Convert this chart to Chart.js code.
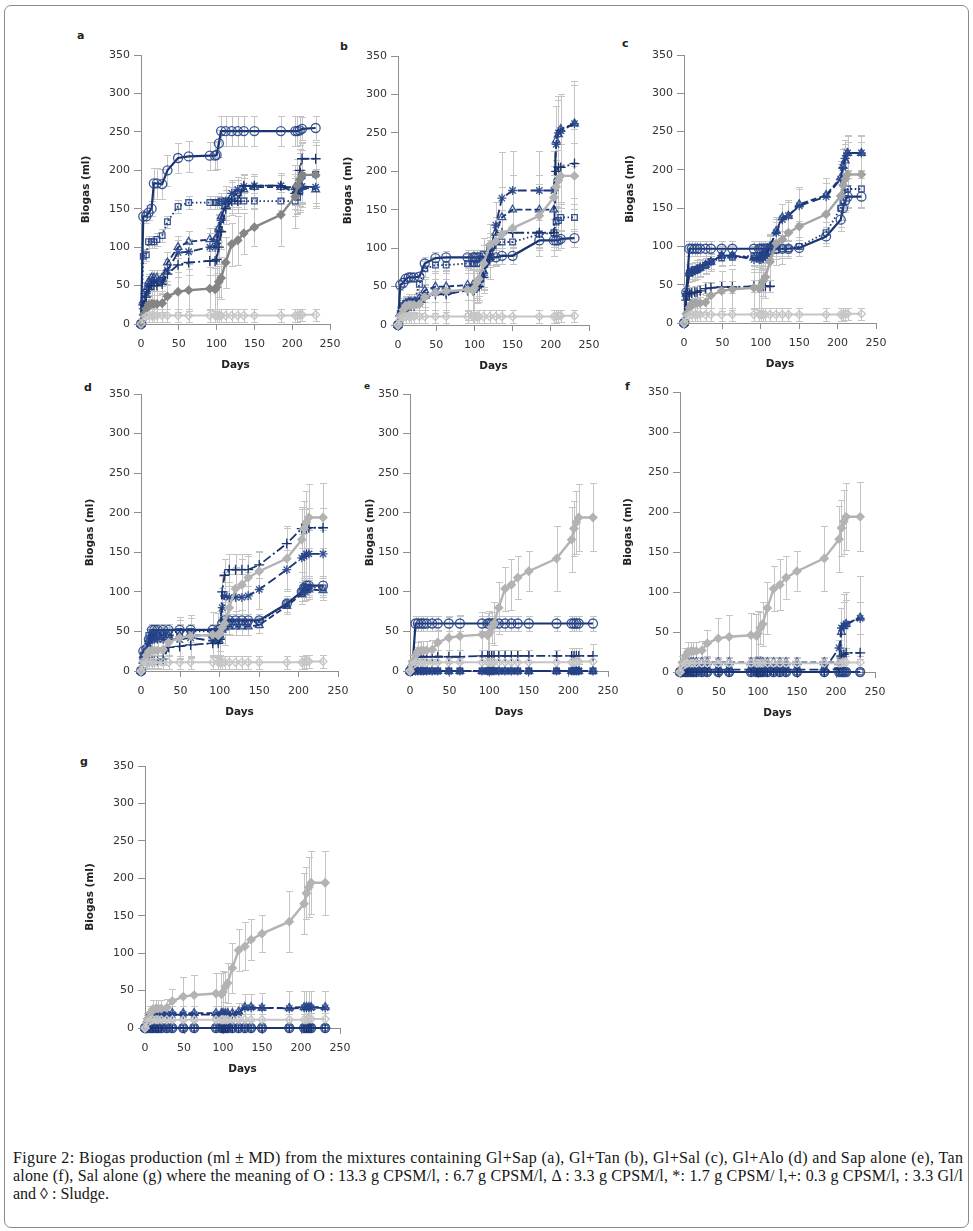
<!DOCTYPE html>
<html>
<head>
<meta charset="utf-8">
<script src="https://cdn.jsdelivr.net/npm/chart.js@4.4.1/dist/chart.umd.min.js"></script>
<style>
  html, body { margin: 0; padding: 0; background: #fff; }
  body { width: 973px; height: 1231px; position: relative; overflow: hidden; }
  .frame { position: absolute; left: 4px; top: 5px; width: 965px; height: 1223px;
           border: 1.5px solid #8a8a8a; border-radius: 7px; box-sizing: border-box; }
  canvas.panel { position: absolute; left: 0; top: 0; }
  .letter { position: absolute; font: bold 11px "DejaVu Sans", sans-serif; color: #222; }
  .cap { position: absolute; left: 13px; font-family: "Liberation Serif", serif; font-size: 16px;
         color: #151515; white-space: nowrap; line-height: 18px; }
</style>
</head>
<body>
<div class="frame"></div>
<div class="letter" style="left:77px;top:29px">a</div>
<div class="letter" style="left:340px;top:40px">b</div>
<div class="letter" style="left:622px;top:37px">c</div>
<div class="letter" style="left:84px;top:381px">d</div>
<div class="letter" style="left:364px;top:381px;font-size:9px">e</div>
<div class="letter" style="left:625px;top:380px">f</div>
<div class="letter" style="left:80px;top:755px">g</div>

<div class="cap fit" style="top:1149px">Figure 2: Biogas production (ml ± MD) from the mixtures containing Gl+Sap (a), Gl+Tan (b), Gl+Sal (c), Gl+Alo (d) and Sap alone (e), Tan</div>
<div class="cap fit" style="top:1167px">alone (f), Sal alone (g) where the meaning of O : 13.3 g CPSM/l, : 6.7 g CPSM/l, Δ : 3.3 g CPSM/l, *: 1.7 g CPSM/ l,+: 0.3 g CPSM/l, : 3.3 Gl/l</div>
<div class="cap" style="top:1185px">and ◊ : Sludge.</div>

<script>
// sampling days shared by all series
const days = [0, 3, 7, 10, 14, 17, 21, 28, 35, 49, 63, 91, 98, 100, 103, 106, 112, 120, 128, 136, 150, 185, 204, 207, 210, 213, 231];

// controls, identical in every panel
const glycerol    = [0, 12, 20, 25, 26, 26, 26, 27, 36, 42, 44, 46, 45, 48, 55, 60, 80, 104, 109, 118, 126, 142, 166, 180, 188, 194, 194];
const glycerolErr = [0, 8, 10, 12, 12, 12, 12, 12, 16, 26, 27, 28, 28, 28, 20, 27, 33, 28, 32, 27, 25, 41, 41, 35, 40, 42, 43];
const sludge      = [0, 7, 10, 11, 11, 11, 11, 11, 11, 11, 11, 11, 11, 11, 11, 11, 11, 11, 11, 11, 11, 11, 11, 11, 12, 12, 12];
const sludgeErr   = [0, 6, 8, 8, 8, 8, 8, 8, 8, 8, 8, 8, 8, 8, 8, 8, 8, 8, 8, 8, 8, 8, 8, 8, 8, 8, 8];

// a : Gl+Sap
const aCircle      = [0, 140, 140, 145, 150, 183, 183, 182, 200, 216, 218, 219, 219, 220, 235, 251, 251, 251, 251, 251, 251, 251, 251, 251, 252, 254, 255];
const aCircleErr   = [0, 8, 8, 10, 10, 20, 20, 20, 20, 20, 20, 18, 18, 18, 18, 19, 19, 19, 19, 19, 19, 19, 19, 19, 19, 15, 15];
const aSquare      = [0, 88, 90, 107, 107, 107, 110, 115, 133, 153, 158, 158, 158, 158, 158, 160, 160, 160, 160, 160, 160, 160, 160, 165, 172, 193, 195];
const aSquareErr   = [0, 8, 8, 8, 8, 8, 8, 8, 8, 8, 8, 8, 8, 8, 8, 10, 10, 10, 10, 10, 10, 12, 20, 22, 26, 34, 38];
const aTriangle    = [0, 30, 45, 55, 60, 60, 60, 60, 80, 100, 107, 110, 110, 112, 125, 140, 155, 165, 170, 175, 178, 178, 178, 178, 178, 178, 175];
const aTriangleErr = [0, 10, 10, 10, 10, 10, 10, 10, 14, 14, 14, 15, 15, 15, 18, 18, 20, 20, 18, 15, 15, 16, 22, 22, 22, 22, 24];
const aStar        = [0, 20, 40, 50, 55, 55, 55, 55, 70, 93, 94, 100, 100, 105, 120, 135, 160, 170, 175, 179, 180, 180, 175, 175, 175, 179, 178];
const aStarErr     = [0, 10, 10, 12, 12, 12, 12, 12, 14, 16, 16, 18, 18, 18, 22, 22, 20, 18, 16, 15, 15, 16, 20, 20, 22, 22, 24];
const aPlus        = [0, 25, 35, 45, 50, 50, 50, 52, 65, 77, 80, 82, 82, 84, 100, 120, 150, 160, 160, 180, 180, 180, 170, 170, 200, 215, 215];
const aPlusErr     = [0, 10, 10, 12, 12, 12, 12, 12, 14, 16, 16, 18, 18, 18, 22, 22, 20, 18, 16, 15, 15, 16, 20, 22, 22, 22, 22];

// b : Gl+Tan
const bCircle      = [0, 52, 55, 60, 62, 62, 62, 63, 80, 87, 88, 88, 88, 88, 88, 88, 88, 88, 88, 90, 90, 110, 110, 110, 110, 112, 113];
const bCircleErr   = [0, 6, 6, 6, 6, 6, 6, 6, 8, 8, 8, 10, 10, 10, 10, 10, 10, 10, 10, 10, 10, 12, 12, 12, 12, 12, 12];
const bSquare      = [0, 15, 25, 28, 30, 30, 30, 53, 73, 78, 78, 80, 80, 80, 80, 85, 92, 100, 108, 108, 108, 118, 120, 134, 136, 140, 140];
const bSquareErr   = [0, 8, 8, 8, 8, 8, 8, 10, 10, 10, 10, 12, 12, 12, 12, 12, 12, 15, 15, 15, 15, 18, 18, 18, 18, 18, 18];
const bTriangle    = [0, 15, 25, 28, 30, 30, 30, 35, 45, 50, 50, 52, 52, 52, 55, 58, 70, 95, 120, 140, 150, 150, 150, 240, 248, 255, 262];
const bTriangleErr = [0, 10, 10, 10, 10, 10, 10, 10, 15, 20, 20, 20, 20, 20, 20, 20, 20, 20, 20, 40, 45, 45, 45, 45, 45, 45, 50];
const bStar        = [0, 12, 20, 25, 27, 27, 27, 30, 38, 42, 42, 47, 47, 48, 50, 52, 65, 90, 130, 165, 175, 175, 175, 235, 250, 253, 262];
const bStarErr     = [0, 10, 10, 10, 10, 10, 10, 10, 15, 40, 45, 40, 40, 40, 20, 20, 20, 30, 30, 60, 52, 52, 52, 50, 48, 45, 55];
const bPlus        = [0, 12, 18, 24, 25, 25, 25, 30, 35, 40, 40, 45, 45, 46, 48, 50, 62, 85, 105, 120, 120, 120, 120, 200, 205, 205, 210];
const bPlusErr     = [0, 10, 10, 10, 10, 10, 10, 10, 15, 20, 20, 30, 30, 30, 20, 20, 20, 25, 25, 30, 30, 30, 30, 45, 45, 45, 45];

// c : Gl+Sal
const cCircle      = [0, 40, 97, 97, 97, 97, 97, 97, 97, 97, 97, 97, 97, 97, 97, 97, 97, 97, 97, 97, 98, 113, 135, 150, 160, 165, 165];
const cCircleErr   = [0, 10, 10, 10, 10, 10, 10, 10, 10, 10, 10, 10, 10, 10, 10, 10, 10, 10, 10, 10, 10, 12, 15, 15, 15, 15, 15];
const cSquare      = [0, 35, 65, 68, 70, 70, 72, 75, 80, 85, 86, 88, 88, 88, 90, 92, 93, 95, 97, 97, 100, 118, 150, 160, 170, 175, 175];
const cSquareErr   = [0, 10, 10, 10, 10, 10, 10, 10, 10, 10, 10, 12, 12, 12, 12, 12, 12, 12, 12, 12, 12, 14, 15, 15, 15, 15, 15];
const cTriangle    = [0, 38, 65, 67, 68, 70, 72, 76, 80, 88, 88, 85, 85, 85, 87, 90, 100, 120, 138, 140, 155, 167, 190, 205, 212, 222, 222];
const cTriangleErr = [0, 10, 12, 12, 12, 12, 12, 12, 12, 12, 12, 15, 15, 15, 15, 15, 15, 18, 18, 18, 22, 22, 22, 22, 22, 22, 22];
const cStar        = [0, 38, 65, 67, 68, 70, 72, 76, 80, 88, 88, 83, 83, 83, 85, 88, 100, 118, 135, 140, 153, 165, 188, 203, 215, 222, 222];
const cStarErr     = [0, 10, 12, 12, 12, 12, 12, 12, 12, 12, 12, 16, 16, 16, 16, 16, 16, 18, 20, 20, 22, 24, 24, 24, 24, 24, 24];
const cPlus        = [0, 30, 38, 39, 40, 40, 42, 45, 46, 47, 47, 48, 48, 48, 48, 48, 48, null, null, null, null, null, null, null, null, null, null];
const cPlusErr     = [0, 8, 8, 8, 8, 8, 8, 8, 8, 8, 8, 8, 8, 8, 8, 8, 8, null, null, null, null, null, null, null, null, null, null];

// d : Gl+Alo
const dCircle      = [0, 25, 28, 40, 52, 52, 52, 52, 52, 52, 52, 52, 52, 52, 60, 64, 64, 64, 64, 64, 64, 85, 100, 105, 108, 108, 108];
const dCircleErr   = [0, 8, 8, 8, 8, 8, 8, 8, 8, 8, 8, 8, 8, 8, 8, 8, 8, 8, 8, 8, 8, 10, 12, 12, 12, 12, 12];
const dSquare      = [0, 20, 25, 45, 48, 48, 48, 48, 48, 50, 50, 50, 50, 50, 55, 60, 62, 62, 62, 62, 62, 85, 100, 105, 106, 106, 105];
const dSquareErr   = [0, 8, 8, 8, 8, 8, 8, 8, 8, 8, 8, 8, 8, 8, 8, 8, 8, 8, 8, 8, 8, 10, 12, 12, 12, 12, 12];
const dTriangle    = [0, 20, 25, 40, 45, 45, 45, 45, 45, 45, 45, 45, 45, 45, 52, 55, 56, 56, 56, 56, 58, 82, 97, 100, 102, 103, 102];
const dTriangleErr = [0, 8, 8, 8, 8, 8, 8, 8, 8, 8, 8, 8, 8, 8, 10, 10, 10, 10, 10, 10, 10, 10, 12, 12, 12, 12, 12];
const dStar        = [0, 15, 20, 35, 40, 40, 40, 40, 40, 40, 42, 38, 38, 40, 80, 95, 93, 93, 93, 95, 103, 128, 143, 145, 148, 148, 148];
const dStarErr     = [0, 10, 10, 10, 10, 10, 10, 10, 10, 25, 25, 20, 20, 20, 25, 30, 30, 30, 30, 30, 25, 25, 30, 30, 30, 30, 30];
const dPlus        = [0, 10, 12, 12, 12, 12, 12, 15, 30, 31, 33, 35, 35, 40, 100, 121, 128, 128, 128, 128, 134, 161, 180, 180, 180, 181, 181];
const dPlusErr     = [0, 8, 8, 8, 8, 8, 8, 8, 10, 15, 15, 15, 15, 15, 20, 20, 20, 20, 20, 20, 16, 20, 25, 25, 25, 25, 25];

// e : Sap alone
const eCircle      = [0, 5, 60, 60, 60, 60, 60, 60, 60, 60, 60, 60, 60, 60, 60, 60, 60, 60, 60, 60, 60, 60, 60, 60, 60, 60, 60];
const eCircleErr   = [0, 5, 10, 10, 10, 10, 10, 10, 10, 10, 10, 10, 10, 10, 10, 10, 10, 10, 10, 10, 10, 10, 10, 10, 10, 10, 10];
const eSquare      = [0, 0, 0, 0, 0, 0, 0, 0, 0, 0, 0, 0, 0, 0, 0, 0, 0, 0, 0, 0, 0, 0, 0, 0, 0, 0, 0];
const eTriangle    = [0, 0, 0, 0, 0, 0, 0, 0, 0, 0, 0, 0, 0, 0, 0, 0, 0, 0, 0, 0, 0, 0, 0, 0, 0, 0, 0];
const eStar        = [0, 0, 0, 0, 0, 0, 0, 0, 0, 0, 0, 0, 0, 0, 0, 0, 0, 0, 0, 0, 0, 0, 0, 0, 0, 0, 0];
const ePlus        = [0, 0, 10, 18, 18, 18, 18, 18, 18, 18, 18, 19, 19, 19, 19, 19, 19, 19, 19, 19, 19, 19, 19, 19, 19, 19, 19];
const ePlusErr     = [0, 0, 8, 8, 8, 8, 8, 8, 8, 8, 8, 8, 8, 8, 8, 8, 8, 8, 8, 8, 8, 8, 10, 10, 10, 10, 15];

// f : Tan alone
const fCircle      = [0, 0, 0, 0, 0, 0, 0, 0, 0, 0, 0, 0, 0, 0, 0, 0, 0, 0, 0, 0, 0, 0, 0, 0, 0, 0, 0];
const fSquare      = [0, 0, 0, 0, 0, 0, 0, 0, 0, 0, 0, 0, 0, 0, 0, 0, 0, 0, 0, 0, 0, 0, 0, 0, 0, 0, 0];
const fTriangle    = [0, 5, 10, 12, 12, 12, 12, 12, 12, 12, 12, 12, 12, 12, 12, 12, 12, 12, 12, 12, 12, 12, 12, 50, 57, 60, 68];
const fTriangleErr = [0, 5, 6, 6, 6, 6, 6, 6, 6, 6, 6, 6, 6, 6, 6, 6, 6, 6, 6, 6, 6, 6, 6, 30, 40, 40, 52];
const fStar        = [0, 2, 3, 3, 3, 3, 3, 3, 3, 3, 3, 3, 3, 3, 3, 3, 3, 3, 3, 3, 3, 3, 30, 55, 58, 60, 67];
const fStarErr     = [0, 0, 0, 0, 0, 0, 0, 0, 0, 0, 0, 0, 0, 0, 0, 0, 0, 0, 0, 0, 0, 0, 10, 25, 30, 30, 20];
const fPlus        = [0, 0, 0, 0, 0, 0, 0, 0, 0, 0, 0, 0, 0, 0, 0, 0, 0, 0, 0, 0, 0, 0, 5, 20, 22, 24, 24];

// g : Sal alone
const gCircle      = [0, 0, 0, 0, 0, 0, 0, 0, 0, 0, 0, 0, 0, 0, 0, 0, 0, 0, 0, 0, 0, 0, 0, 0, 0, 0, 0];
const gSquare      = [0, 0, 0, 0, 0, 0, 0, 0, 0, 0, 0, 0, 0, 0, 0, 0, 0, 0, 0, 0, 0, 0, 0, 0, 0, 0, 0];
const gTriangle    = [0, 10, 20, 20, 20, 20, 20, 20, 20, 20, 20, 20, 20, 20, 20, 20, 20, 22, 28, 28, 27, 27, 28, 28, 28, 28, 28];
const gTriangleErr = [0, 8, 10, 10, 10, 10, 10, 10, 10, 10, 10, 10, 10, 10, 10, 10, 10, 12, 18, 18, 20, 22, 22, 22, 22, 22, 22];
const gStar        = [0, 8, 18, 18, 18, 18, 18, 18, 18, 18, 18, 18, 18, 18, 18, 18, 18, 20, 27, 27, 27, 26, 27, 27, 27, 27, 27];
const gPlus        = [0, 0, 0, 0, 0, 0, 0, 0, 0, 0, 0, 0, 0, 0, 0, 0, 0, 0, 0, 0, 0, 0, 0, 0, 0, 0, 0];

const yTicks = [0, 50, 100, 150, 200, 250, 300, 350];
const xTicks = [0, 50, 100, 150, 200, 250];

// where each panel's plot box sits on the page (axis pixels) and where its y title goes
const panels = [
  { left: 141, top: 55,  right: 330, bottom: 324,  titleX: 86,  gray: "#858585",
    circle: [aCircle, aCircleErr], square: [aSquare, aSquareErr], triangle: [aTriangle, aTriangleErr], star: [aStar, aStarErr], plus: [aPlus, aPlusErr] },
  { left: 398, top: 56,  right: 589, bottom: 325,  titleX: 348, gray: "#b3b3b3",
    circle: [bCircle, bCircleErr], square: [bSquare, bSquareErr], triangle: [bTriangle, bTriangleErr], star: [bStar, bStarErr], plus: [bPlus, bPlusErr] },
  { left: 684, top: 55,  right: 876, bottom: 323,  titleX: 630, gray: "#a4a4a4",
    circle: [cCircle, cCircleErr], square: [cSquare, cSquareErr], triangle: [cTriangle, cTriangleErr], star: [cStar, cStarErr], plus: [cPlus, cPlusErr] },
  { left: 141, top: 394, right: 338, bottom: 671,  titleX: 90,  gray: "#b3b3b3",
    circle: [dCircle, dCircleErr], square: [dSquare, dSquareErr], triangle: [dTriangle, dTriangleErr], star: [dStar, dStarErr], plus: [dPlus, dPlusErr] },
  { left: 410, top: 394, right: 608, bottom: 671,  titleX: 370, gray: "#b3b3b3",
    circle: [eCircle, eCircleErr], square: [eSquare, null], triangle: [eTriangle, null], star: [eStar, null], plus: [ePlus, ePlusErr] },
  { left: 680, top: 392, right: 875, bottom: 672,  titleX: 628, gray: "#b3b3b3",
    circle: [fCircle, null], square: [fSquare, null], triangle: [fTriangle, fTriangleErr], star: [fStar, fStarErr], plus: [fPlus, null] },
  { left: 145, top: 766, right: 340, bottom: 1028, titleX: 90,  gray: "#b3b3b3",
    circle: [gCircle, null], square: [gSquare, null], triangle: [gTriangle, gTriangleErr], star: [gStar, null], plus: [gPlus, null] }
];

const AXIS = "#8f8f8f";
const NAVY = "#1a3470";
const MARK = "rgba(38, 68, 138, 0.9)";
const ERR = "#c4c4c4";
const TICK_FONT = { family: "DejaVu Sans", size: 11 };
const TITLE_FONT = { family: "DejaVu Sans", size: 10.5, weight: "bold" };

// error bars drawn from dataset.errors through the chart scales
const errorBars = {
  id: "errorBars",
  beforeDatasetsDraw(chart) {
    const { ctx, chartArea, scales } = chart;
    ctx.save();
    ctx.beginPath();
    ctx.rect(chartArea.left - 6, chartArea.top - 2, chartArea.width + 12, chartArea.height + 2);
    ctx.clip();
    ctx.strokeStyle = ERR;
    ctx.lineWidth = 1;
    chart.data.datasets.forEach(ds => {
      if (!ds.errors) return;
      ds.data.forEach((p, i) => {
        const e = ds.errors[i];
        if (p.y == null || !e) return;
        const px = Math.round(scales.x.getPixelForValue(p.x)) + 0.5;
        const hi = Math.round(scales.y.getPixelForValue(p.y + e)) + 0.5;
        const lo = Math.round(scales.y.getPixelForValue(p.y - e)) + 0.5;
        ctx.beginPath();
        ctx.moveTo(px, hi); ctx.lineTo(px, lo);
        ctx.moveTo(px - 3.5, hi); ctx.lineTo(px + 3.5, hi);
        ctx.moveTo(px - 3.5, lo); ctx.lineTo(px + 3.5, lo);
        ctx.stroke();
      });
    });
    ctx.restore();
  }
};

function series(values, errors, o) {
  return {
    data: days.map((d, i) => ({ x: d, y: values[i] })),
    errors: errors,
    borderColor: o.line,
    borderWidth: o.width,
    borderDash: o.dash || [],
    pointStyle: o.marker,
    pointRadius: o.r,
    pointBorderColor: o.mark,
    pointBorderWidth: 1.3,
    pointBackgroundColor: o.fill || "rgba(255,255,255,0)",
    tension: 0,
    clip: false,
    spanGaps: false
  };
}

function buildDatasets(p) {
  return [
    series(sludge, sludgeErr, { line: "#c6c6c6", width: 2, marker: "rectRot", r: 4, mark: "#c6c6c6" }),
    series(glycerol, glycerolErr, { line: p.gray, width: 2.4, marker: "rectRot", r: 4, mark: p.gray, fill: p.gray }),
    series(p.plus[0], p.plus[1], { line: NAVY, width: 1.8, dash: [9, 3, 2, 3], marker: "cross", r: 5, mark: NAVY }),
    series(p.star[0], p.star[1], { line: NAVY, width: 1.8, dash: [9, 4], marker: "star", r: 4.5, mark: MARK }),
    series(p.triangle[0], p.triangle[1], { line: NAVY, width: 1.8, dash: [6, 3], marker: "triangle", r: 4.5, mark: MARK }),
    series(p.square[0], p.square[1], { line: NAVY, width: 1.8, dash: [1.5, 2.5], marker: "rect", r: 4, mark: MARK }),
    series(p.circle[0], p.circle[1], { line: NAVY, width: 2.2, marker: "circle", r: 4.5, mark: MARK })
  ];
}

panels.forEach(p => {
  const canvas = document.createElement("canvas");
  canvas.className = "panel";
  canvas.width = 973;
  canvas.height = 1231;
  document.body.appendChild(canvas);

  const yWidth = p.left - p.titleX + 6.3;
  const xHeight = 47.3;
  const pad = { left: p.left - yWidth, top: p.top, right: 973 - p.right, bottom: 1231 - p.bottom - xHeight };

  const chart = new Chart(canvas, {
    type: "line",
    data: { datasets: buildDatasets(p) },
    plugins: [errorBars],
    options: {
      responsive: false,
      animation: false,
      events: [],
      layout: { padding: Object.assign({}, pad) },
      plugins: { legend: { display: false }, tooltip: { enabled: false } },
      scales: {
        x: {
          type: "linear", min: 0, max: 250,
          afterBuildTicks: s => { s.ticks = xTicks.map(v => ({ value: v })); },
          ticks: { font: TICK_FONT, color: "#333", padding: 8, maxRotation: 0 },
          grid: { drawOnChartArea: false, drawTicks: true, tickLength: 6, color: AXIS },
          border: { color: AXIS, width: 1 },
          title: { display: true, text: "Days", font: TITLE_FONT, color: "#222", padding: 0 },
          afterFit: s => { s.height = xHeight; }
        },
        y: {
          type: "linear", min: 0, max: 350,
          afterBuildTicks: s => { s.ticks = yTicks.map(v => ({ value: v })); },
          ticks: { font: TICK_FONT, color: "#333", padding: 4 },
          grid: { drawOnChartArea: false, drawTicks: true, tickLength: 7, color: AXIS },
          border: { color: AXIS, width: 1 },
          title: { display: true, text: "Biogas (ml)", font: TITLE_FONT, color: "#222", padding: 0 },
          afterFit: s => { s.width = yWidth; }
        }
      }
    }
  });

  // nudge the padding so the plot box lands exactly on the wanted axis pixels
  for (let k = 0; k < 2; k++) {
    const ca = chart.chartArea;
    pad.left += p.left - ca.left;
    pad.top += p.top - ca.top;
    pad.right += ca.right - p.right;
    pad.bottom += ca.bottom - p.bottom;
    chart.options.layout.padding = Object.assign({}, pad);
    chart.update();
  }
});

// stretch the first two caption lines to the full text width
document.querySelectorAll(".cap.fit").forEach(el => {
  const target = 950;
  const w = el.getBoundingClientRect().width;
  const n = el.textContent.length - 1;
  el.style.letterSpacing = ((target - w) / n) + "px";
});
</script>
</body>
</html>
